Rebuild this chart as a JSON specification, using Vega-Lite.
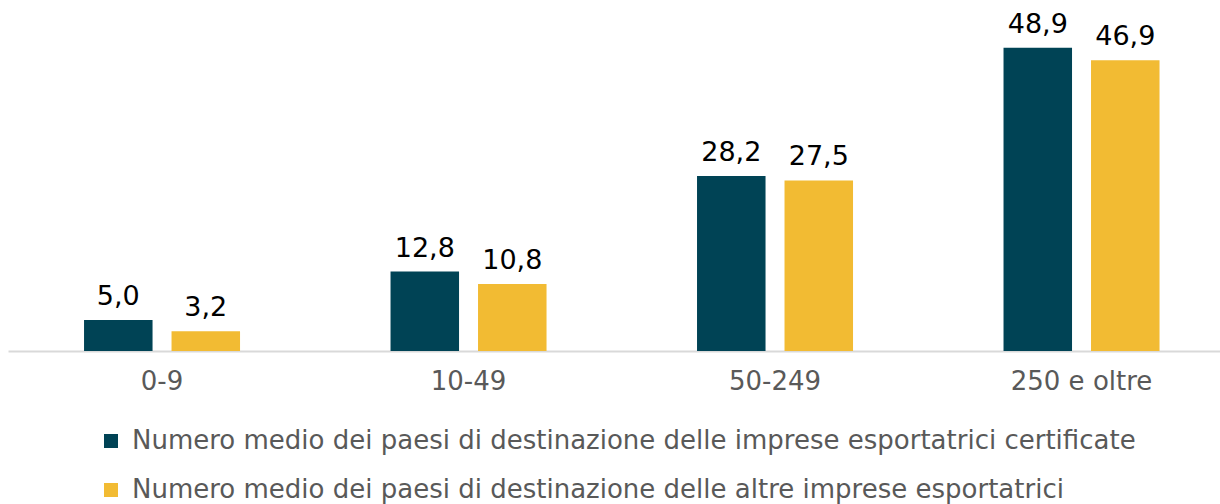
{
  "$schema": "https://vega.github.io/schema/vega-lite/v6.json",
  "width": 1212,
  "height": 351,
  "autosize": {"type": "none"},
  "padding": {"left": 8, "top": 0, "right": 0, "bottom": 153},
  "config": {
    "view": {"stroke": null},
    "font": "DejaVu Sans",
    "locale": {"number": {"decimal": ",", "thousands": ".", "grouping": [3], "currency": ["€", ""]}}
  },
  "data": {
    "values": [
      {"classe": "0-9", "serie": "Numero medio dei paesi di destinazione delle imprese esportatrici certificate", "valore": 5.0},
      {"classe": "0-9", "serie": "Numero medio dei paesi di destinazione delle altre imprese esportatrici", "valore": 3.2},
      {"classe": "10-49", "serie": "Numero medio dei paesi di destinazione delle imprese esportatrici certificate", "valore": 12.8},
      {"classe": "10-49", "serie": "Numero medio dei paesi di destinazione delle altre imprese esportatrici", "valore": 10.8},
      {"classe": "50-249", "serie": "Numero medio dei paesi di destinazione delle imprese esportatrici certificate", "valore": 28.2},
      {"classe": "50-249", "serie": "Numero medio dei paesi di destinazione delle altre imprese esportatrici", "valore": 27.5},
      {"classe": "250 e oltre", "serie": "Numero medio dei paesi di destinazione delle imprese esportatrici certificate", "valore": 48.9},
      {"classe": "250 e oltre", "serie": "Numero medio dei paesi di destinazione delle altre imprese esportatrici", "valore": 46.9}
    ]
  },
  "encoding": {
    "x": {
      "field": "classe",
      "type": "nominal",
      "sort": ["0-9", "10-49", "50-249", "250 e oltre"],
      "scale": {"paddingInner": 0.491, "paddingOuter": 0.2227, "align": 0.557},
      "axis": {
        "title": null,
        "labelAngle": 0,
        "ticks": false,
        "domainColor": "#d9d9d9",
        "domainWidth": 2,
        "labelFontSize": 26,
        "labelColor": "#595959",
        "labelPadding": 17
      }
    },
    "xOffset": {
      "field": "serie",
      "type": "nominal",
      "sort": [
        "Numero medio dei paesi di destinazione delle imprese esportatrici certificate",
        "Numero medio dei paesi di destinazione delle altre imprese esportatrici"
      ],
      "scale": {"paddingInner": 0.217}
    },
    "y": {
      "field": "valore",
      "type": "quantitative",
      "scale": {"domain": [0, 56.6], "nice": false},
      "axis": null
    }
  },
  "layer": [
    {
      "mark": {"type": "bar"},
      "encoding": {
        "color": {
          "field": "serie",
          "type": "nominal",
          "sort": [
            "Numero medio dei paesi di destinazione delle imprese esportatrici certificate",
            "Numero medio dei paesi di destinazione delle altre imprese esportatrici"
          ],
          "scale": {"range": ["#004355", "#F2BB33"]},
          "legend": {
            "title": null,
            "orient": "none",
            "direction": "vertical",
            "legendX": 90,
            "legendY": 428,
            "padding": 0,
            "symbolType": "square",
            "symbolSize": 196,
            "symbolStrokeWidth": 0,
            "symbolOpacity": 1,
            "labelFontSize": 26,
            "labelColor": "#595959",
            "labelOffset": 8,
            "labelLimit": 1200,
            "rowPadding": 23
          }
        }
      }
    },
    {
      "mark": {"type": "text", "baseline": "alphabetic", "dy": -15, "fontSize": 27, "color": "#000000"},
      "encoding": {
        "text": {"field": "valore", "type": "quantitative", "format": ".1f"}
      }
    }
  ]
}
